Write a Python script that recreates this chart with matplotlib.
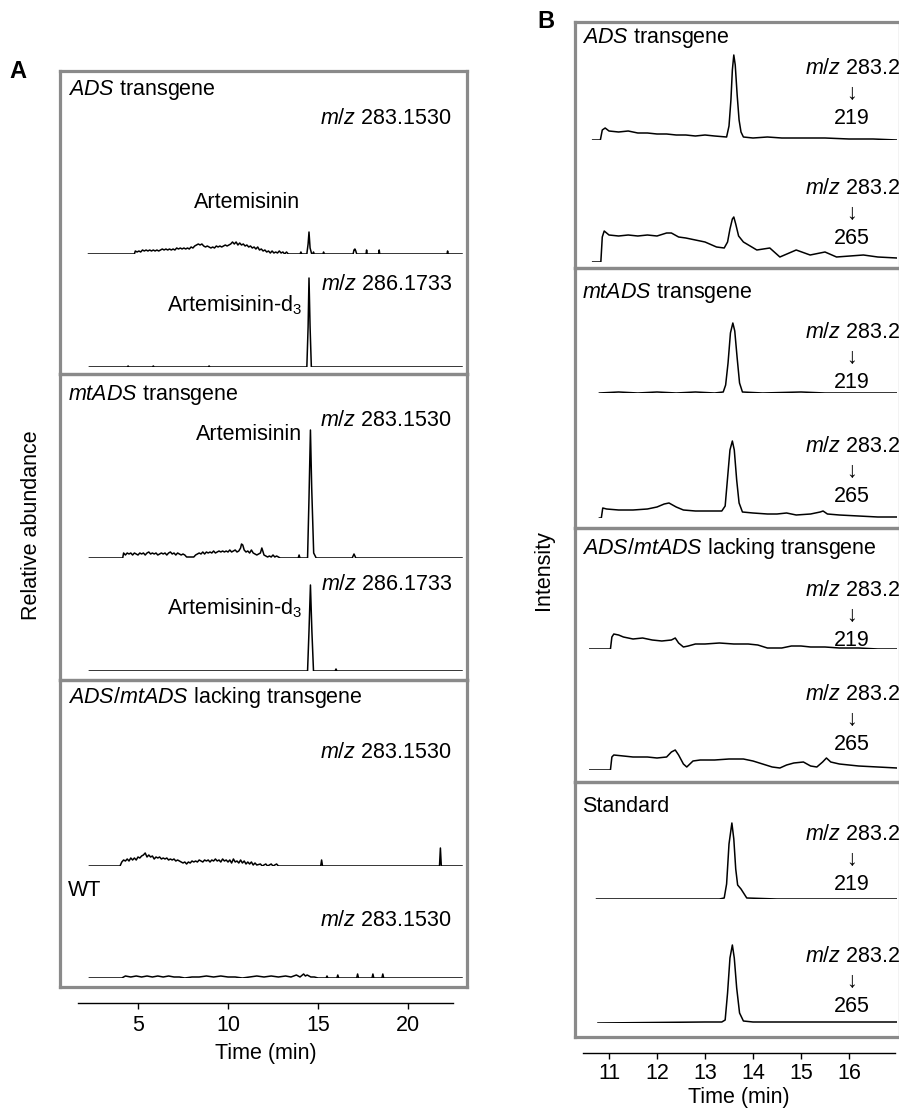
import numpy as np
import matplotlib
matplotlib.use("Agg")
import matplotlib.pyplot as plt

# ---- data (time in min, height above baseline in px) ----
ads_283 = [(2.25, 0), (4.8, 0), (4.85, 3), (4.95, 2), (5.05, 3), (5.15, 2), (5.25, 4), (5.35, 3), (5.45, 4),
           (5.55, 3), (5.65, 4), (5.75, 3), (5.85, 4), (5.95, 3), (6.05, 4), (6.15, 3), (6.25, 4), (6.35, 5),
           (6.45, 4), (6.55, 5), (6.65, 4), (6.75, 5), (6.85, 4), (6.95, 5), (7.05, 4), (7.15, 6), (7.25, 5),
           (7.35, 6), (7.45, 5), (7.55, 6), (7.65, 5), (7.75, 6), (7.85, 5), (7.95, 7), (8.05, 6), (8.15, 8),
           (8.25, 9), (8.35, 10), (8.45, 9), (8.55, 10), (8.65, 8), (8.75, 7), (8.85, 8), (8.95, 7), (9.05, 6),
           (9.15, 7), (9.25, 6), (9.35, 8), (9.45, 7), (9.55, 8), (9.65, 7), (9.75, 8), (9.85, 9), (9.95, 8),
           (10.05, 9), (10.15, 10), (10.25, 12), (10.35, 10), (10.45, 12), (10.55, 9), (10.65, 11), (10.75, 9),
           (10.85, 10), (10.95, 8), (11.05, 9), (11.15, 7), (11.25, 8), (11.35, 6), (11.45, 7), (11.55, 5),
           (11.65, 7), (11.75, 4), (11.85, 5), (11.95, 3), (12.05, 4), (12.15, 2), (12.25, 3), (12.35, 1),
           (12.45, 3), (12.55, 1), (12.65, 2), (12.75, 1), (12.85, 3), (12.95, 1), (13.05, 2), (13.15, 0),
           (13.25, 2), (13.35, 0), (14.0, 0), (14.05, 2), (14.1, 0), (14.38, 0), (14.45, 10), (14.5, 22),
           (14.56, 6), (14.65, 0), (14.72, 0), (14.75, 2), (14.78, 0), (15.28, 0), (15.31, 2), (15.34, 0),
           (16.95, 0), (17.0, 4), (17.05, 5), (17.1, 3), (17.15, 0), (17.67, 0), (17.7, 4), (17.73, 0),
           (18.37, 0), (18.4, 4), (18.43, 0), (22.17, 0), (22.2, 3), (22.23, 0), (23.0, 0)]
ads_286 = [(2.3, 0), (4.4, 0), (4.45, 1), (4.5, 0), (5.8, 0), (5.85, 1), (5.9, 0), (8.9, 0), (8.95, 1),
           (9.0, 0), (14.38, 0), (14.45, 40), (14.5, 89), (14.56, 40), (14.63, 0), (23.0, 0)]
mtads_283 = [(2.3, 0), (4.15, 0), (4.2, 5), (4.3, 3), (4.4, 5), (4.5, 4), (4.6, 5), (4.7, 3), (4.8, 5),
             (4.9, 4), (5.0, 3), (5.1, 5), (5.2, 4), (5.3, 5), (5.4, 3), (5.5, 5), (5.6, 6), (5.7, 4),
             (5.8, 5), (5.9, 4), (6.0, 5), (6.1, 3), (6.2, 4), (6.3, 5), (6.4, 4), (6.5, 5), (6.6, 3),
             (6.7, 5), (6.8, 6), (6.9, 4), (7.0, 5), (7.1, 3), (7.2, 5), (7.3, 4), (7.4, 3), (7.5, 4),
             (7.6, 3), (7.7, 1), (8.1, 1), (8.2, 3), (8.3, 4), (8.4, 5), (8.5, 4), (8.6, 6), (8.7, 4),
             (8.8, 6), (8.9, 5), (9.0, 6), (9.1, 5), (9.2, 7), (9.3, 5), (9.4, 6), (9.5, 7), (9.6, 6),
             (9.7, 7), (9.8, 6), (9.9, 7), (10.0, 6), (10.1, 8), (10.2, 6), (10.3, 7), (10.4, 8), (10.5, 6),
             (10.6, 7), (10.7, 10), (10.75, 14), (10.82, 13), (10.9, 8), (11.0, 6), (11.1, 7), (11.2, 5),
             (11.3, 8), (11.4, 5), (11.5, 4), (11.6, 3), (11.7, 4), (11.8, 5), (11.88, 10), (11.95, 6),
             (12.0, 3), (12.1, 2), (12.2, 1), (12.3, 2), (12.4, 1), (12.5, 3), (12.6, 1), (12.7, 2),
             (12.8, 1), (12.9, 0), (13.9, 0), (13.95, 3), (14.0, 0), (14.42, 0), (14.5, 60), (14.58, 128),
             (14.65, 70), (14.76, 5), (14.9, 0), (16.9, 0), (17.0, 4), (17.1, 0), (23.0, 0)]
mtads_286 = [(2.3, 0), (14.42, 0), (14.5, 40), (14.58, 86), (14.66, 40), (14.75, 0), (15.95, 0),
             (16.0, 2), (16.05, 0), (23.0, 0)]
lack_283 = [(2.3, 0), (4.0, 0), (4.1, 4), (4.2, 6), (4.3, 5), (4.4, 7), (4.5, 5), (4.6, 8), (4.7, 6),
            (4.8, 8), (4.9, 6), (5.0, 9), (5.1, 8), (5.2, 10), (5.3, 11), (5.4, 13), (5.5, 9), (5.6, 11),
            (5.7, 9), (5.8, 10), (5.9, 7), (6.0, 9), (6.1, 8), (6.2, 9), (6.3, 7), (6.4, 8), (6.5, 7),
            (6.6, 8), (6.7, 6), (6.8, 7), (6.9, 6), (7.0, 7), (7.1, 5), (7.2, 6), (7.3, 5), (7.4, 4),
            (7.5, 3), (7.6, 4), (7.7, 2), (7.8, 4), (7.9, 3), (8.0, 5), (8.1, 4), (8.2, 5), (8.3, 4),
            (8.4, 6), (8.5, 5), (8.6, 4), (8.7, 6), (8.8, 5), (8.9, 6), (9.0, 4), (9.1, 6), (9.2, 5),
            (9.3, 7), (9.4, 5), (9.5, 6), (9.6, 4), (9.7, 7), (9.8, 5), (9.9, 6), (10.0, 4), (10.1, 6),
            (10.2, 3), (10.3, 7), (10.4, 4), (10.5, 5), (10.6, 3), (10.7, 6), (10.8, 3), (10.9, 5),
            (11.0, 2), (11.1, 4), (11.2, 2), (11.3, 4), (11.4, 1), (11.5, 3), (11.6, 1), (11.8, 2),
            (11.9, 0), (12.1, 2), (12.2, 0), (12.4, 2), (12.5, 0), (12.7, 2), (12.8, 0), (15.15, 0),
            (15.2, 6), (15.25, 0), (21.75, 0), (21.8, 18), (21.85, 0), (23.0, 0)]
wt_283 = [(2.3, 0), (4.1, 0), (4.3, 2), (4.6, 1), (4.9, 2), (5.2, 1), (5.5, 2), (5.8, 1), (6.1, 2),
          (6.4, 1), (6.7, 2), (7.0, 1), (7.3, 1), (7.6, 0), (8.0, 1), (8.4, 1), (8.8, 2), (9.2, 1),
          (9.6, 2), (10.0, 1), (10.4, 1), (10.8, 0), (11.2, 1), (11.6, 2), (12.0, 1), (12.4, 2),
          (12.8, 1), (13.2, 2), (13.5, 1), (13.8, 3), (14.0, 1), (14.2, 4), (14.3, 2), (14.4, 3),
          (14.6, 1), (14.8, 1), (15.0, 0), (15.45, 0), (15.5, 2), (15.55, 0), (16.05, 0), (16.1, 3),
          (16.15, 0), (17.15, 0), (17.2, 4), (17.25, 0), (18.0, 0), (18.05, 4), (18.1, 0), (18.55, 0),
          (18.6, 4), (18.65, 0), (23.0, 0)]

b_ads_219 = [(10.66, 0), (10.82, 0), (10.86, 10), (10.92, 12), (11.0, 9), (11.2, 8), (11.4, 9), (11.6, 7),
             (11.8, 7), (12.0, 6), (12.2, 6), (12.4, 5), (12.6, 5), (12.8, 4), (13.0, 5), (13.2, 4),
             (13.45, 3), (13.5, 14), (13.54, 40), (13.57, 70), (13.6, 85), (13.63, 75), (13.67, 45),
             (13.71, 20), (13.75, 8), (13.8, 3), (14.0, 2), (14.3, 3), (14.6, 2), (15.0, 2), (15.5, 2),
             (16.0, 1), (16.5, 1), (17.0, 0)]
b_ads_265 = [(10.66, 0), (10.83, 0), (10.86, 25), (10.9, 31), (11.0, 27), (11.2, 26), (11.4, 27),
             (11.6, 26), (11.8, 27), (12.0, 26), (12.2, 29), (12.3, 29), (12.45, 25), (12.6, 24),
             (12.8, 22), (13.0, 20), (13.24, 15), (13.4, 14), (13.47, 20), (13.52, 33), (13.57, 43),
             (13.6, 45), (13.64, 38), (13.7, 26), (13.8, 20), (14.08, 12), (14.35, 14), (14.56, 5),
             (14.9, 12), (15.19, 7), (15.5, 10), (15.74, 5), (16.3, 7), (16.6, 5), (17.0, 4)]
b_mt_219 = [(10.8, 0), (11.2, 1), (11.6, 0), (12.0, 1), (12.4, 0), (12.8, 1), (13.2, 0), (13.38, 1),
            (13.43, 8), (13.48, 30), (13.53, 60), (13.58, 70), (13.62, 62), (13.67, 35), (13.72, 10),
            (13.78, 1), (14.2, 0), (15.0, 1), (15.5, 0), (17.0, 0)]
b_mt_265 = [(10.8, 0), (10.84, 0), (10.87, 10), (10.95, 9), (11.2, 8), (11.5, 8), (11.8, 9), (12.0, 11),
            (12.15, 14), (12.25, 15), (12.4, 11), (12.55, 8), (12.8, 7), (13.1, 7), (13.35, 7),
            (13.42, 12), (13.47, 40), (13.52, 68), (13.57, 77), (13.61, 68), (13.66, 38), (13.71, 15),
            (13.78, 6), (14.0, 5), (14.3, 4), (14.5, 4), (14.7, 5), (14.9, 3), (15.2, 4), (15.4, 6),
            (15.46, 7), (15.55, 4), (15.8, 3), (16.2, 2), (16.6, 1), (17.0, 1)]
b_lack_219 = [(10.6, 0), (11.03, 0), (11.06, 12), (11.1, 15), (11.2, 14), (11.3, 12), (11.5, 10),
              (11.7, 11), (11.9, 9), (12.1, 8), (12.3, 9), (12.38, 11), (12.45, 6), (12.55, 2),
              (12.65, 3), (12.8, 5), (13.0, 5), (13.3, 6), (13.6, 5), (13.9, 5), (14.1, 4), (14.3, 1),
              (14.6, 1), (14.8, 3), (15.0, 3), (15.2, 2), (15.5, 2), (15.8, 1), (16.2, 1), (16.6, 0),
              (17.0, 0)]
b_lack_265 = [(10.6, 0), (11.03, 0), (11.06, 13), (11.1, 15), (11.3, 14), (11.5, 13), (11.8, 13),
              (12.0, 12), (12.2, 13), (12.3, 18), (12.38, 20), (12.45, 15), (12.55, 6), (12.62, 3),
              (12.75, 9), (12.9, 10), (13.2, 10), (13.5, 11), (13.8, 11), (14.0, 9), (14.2, 6),
              (14.4, 3), (14.56, 2), (14.7, 5), (14.85, 7), (15.05, 8), (15.2, 4), (15.33, 3),
              (15.45, 8), (15.53, 12), (15.62, 8), (15.8, 6), (16.2, 4), (16.6, 3), (17.0, 2)]
b_std_219 = [(10.74, 0), (12.0, 0), (13.3, 0), (13.4, 1), (13.45, 15), (13.5, 55), (13.56, 76),
             (13.6, 60), (13.64, 30), (13.68, 14), (13.75, 10), (13.87, 1), (14.5, 0), (17.0, 0)]
b_std_265 = [(10.77, 0), (13.0, 1), (13.35, 1), (13.42, 3), (13.47, 30), (13.52, 65), (13.57, 78),
             (13.61, 65), (13.66, 35), (13.72, 10), (13.8, 2), (14.0, 1), (15.7, 1), (16.2, 1), (17.0, 1)]

ticks_a = [5, 10, 15, 20]
ticks_b = [11, 12, 13, 14, 15, 16]

# ---- figure setup ----
W, H = 899, 1110
plt.rcParams['font.family'] = ['Liberation Sans', 'DejaVu Sans']
plt.rcParams['mathtext.fontset'] = 'custom'
plt.rcParams['mathtext.rm'] = 'Liberation Sans'
plt.rcParams['mathtext.it'] = 'Liberation Sans:italic'
plt.rcParams['mathtext.bf'] = 'Liberation Sans:bold'

fig = plt.figure(figsize=(W / 100, H / 100), dpi=100)
FS = 15.5
GREY = '#8a8a8a'


def px_axes(x0, y0, x1, y1):
    # pixel rectangle, origin top-left
    return fig.add_axes([x0 / W, 1 - y1 / H, (x1 - x0) / W, (y1 - y0) / H])


def box(x0, y0, x1, y1):
    ax = px_axes(x0, y0, x1, y1)
    ax.set_xticks([])
    ax.set_yticks([])
    ax.patch.set_alpha(0)
    for s in ax.spines.values():
        s.set_color(GREY)
        s.set_linewidth(2.3)
    return ax


def trace(x0, x1, base, height, xlim, pts):
    ax = px_axes(x0, base - height, x1, base)
    t, y = np.array(pts, dtype=float).T
    ax.plot(t, y, color='k', lw=1.1)
    ax.set_xlim(xlim)
    ax.set_ylim(0, height)
    ax.axis('off')
    return ax


def txt(x, y, s, ha='left', size=FS, **kw):
    fig.text(x / W, 1 - y / H, s, ha=ha, va='center', fontsize=size, **kw)


def time_axis(x0, x1, y, px_per_min, ref_px, ref_t, ticks, pad, labelpad):
    ax = px_axes(x0, y - 1, x1, y)
    ax.set_xlim((x0 - ref_px) / px_per_min + ref_t, (x1 - ref_px) / px_per_min + ref_t)
    ax.set_xticks(ticks)
    ax.set_yticks([])
    for s in ['top', 'left', 'right']:
        ax.spines[s].set_visible(False)
    ax.spines['bottom'].set_linewidth(1.0)
    ax.tick_params(axis='x', direction='out', length=4.5, width=1.0, pad=pad, labelsize=FS)
    ax.set_xlabel('Time (min)', fontsize=FS, labelpad=labelpad)
    ax.patch.set_alpha(0)
    return ax


# ---------------- panel A ----------------
ax0, ax1 = 60, 467
xlim_a = ((ax0 - 138) / 18 + 5, (ax1 - 138) / 18 + 5)

box(ax0, 71, ax1, 374)
box(ax0, 374, ax1, 680)
box(ax0, 680, ax1, 987)

trace(ax0, ax1, 254, 30, xlim_a, ads_283)
trace(ax0, ax1, 367, 95, xlim_a, ads_286)
trace(ax0, ax1, 558, 135, xlim_a, mtads_283)
trace(ax0, ax1, 671, 95, xlim_a, mtads_286)
trace(ax0, ax1, 866, 30, xlim_a, lack_283)
trace(ax0, ax1, 978, 30, xlim_a, wt_283)

txt(9, 72, 'A', size=17, fontweight='bold')
txt(68, 90, '$ADS$ transgene')
txt(452, 119, '$m/z$ 283.1530', ha='right')
txt(247, 203, 'Artemisinin', ha='center')
txt(452, 285, '$m/z$ 286.1733', ha='right')
txt(302, 305, 'Artemisinin-d$_3$', ha='right')

txt(68, 395, '$mtADS$ transgene')
txt(452, 421, '$m/z$ 283.1530', ha='right')
txt(302, 435, 'Artemisinin', ha='right')
txt(452, 585, '$m/z$ 286.1733', ha='right')
txt(302, 608, 'Artemisinin-d$_3$', ha='right')

txt(68, 698, '$ADS$/$mtADS$ lacking transgene')
txt(452, 752, '$m/z$ 283.1530', ha='right')
txt(68, 890, 'WT')
txt(452, 921, '$m/z$ 283.1530', ha='right')

txt(32, 525, 'Relative abundance', ha='center', rotation=90)

time_axis(78, 453, 1003, 18, 138, 5, ticks_a, pad=4, labelpad=5)

# ---------------- panel B ----------------
bx0, bx1 = 575, 897
xlim_b = ((bx0 - 609) / 48 + 11, (bx1 - 609) / 48 + 11)

box(bx0, 22, bx1 + 3, 268)
box(bx0, 268, bx1 + 3, 528)
box(bx0, 528, bx1 + 3, 782)
box(bx0, 782, bx1 + 3, 1037)

trace(bx0, bx1, 140, 90, xlim_b, b_ads_219)
trace(bx0, bx1, 262, 50, xlim_b, b_ads_265)
trace(bx0, bx1, 393, 75, xlim_b, b_mt_219)
trace(bx0, bx1, 518, 80, xlim_b, b_mt_265)
trace(bx0, bx1, 649, 20, xlim_b, b_lack_219)
trace(bx0, bx1, 770, 25, xlim_b, b_lack_265)
trace(bx0, bx1, 899, 80, xlim_b, b_std_219)
trace(bx0, bx1, 1023, 80, xlim_b, b_std_265)

txt(537, 21, 'B', size=17, fontweight='bold')
txt(582, 38, '$ADS$ transgene')
txt(582, 293, '$mtADS$ transgene')
txt(582, 548, '$ADS$/$mtADS$ lacking transgene')
txt(582, 806, 'Standard')

ion_groups = [(69, '219'), (188, '265'), (333, '219'), (446, '265'),
              (590, '219'), (694, '265'), (835, '219'), (957, '265')]
for y, prod in ion_groups:
    txt(805, y, '$m/z$ 283.2')
    txt(852, y + 25, '\u2193', ha='center')
    txt(852, y + 50, prod, ha='center')

txt(544, 570, 'Intensity', ha='center', rotation=90)

time_axis(583, 895, 1053, 48, 609, 11, ticks_b, pad=3, labelpad=2)

fig.savefig('out.png', dpi=100)
